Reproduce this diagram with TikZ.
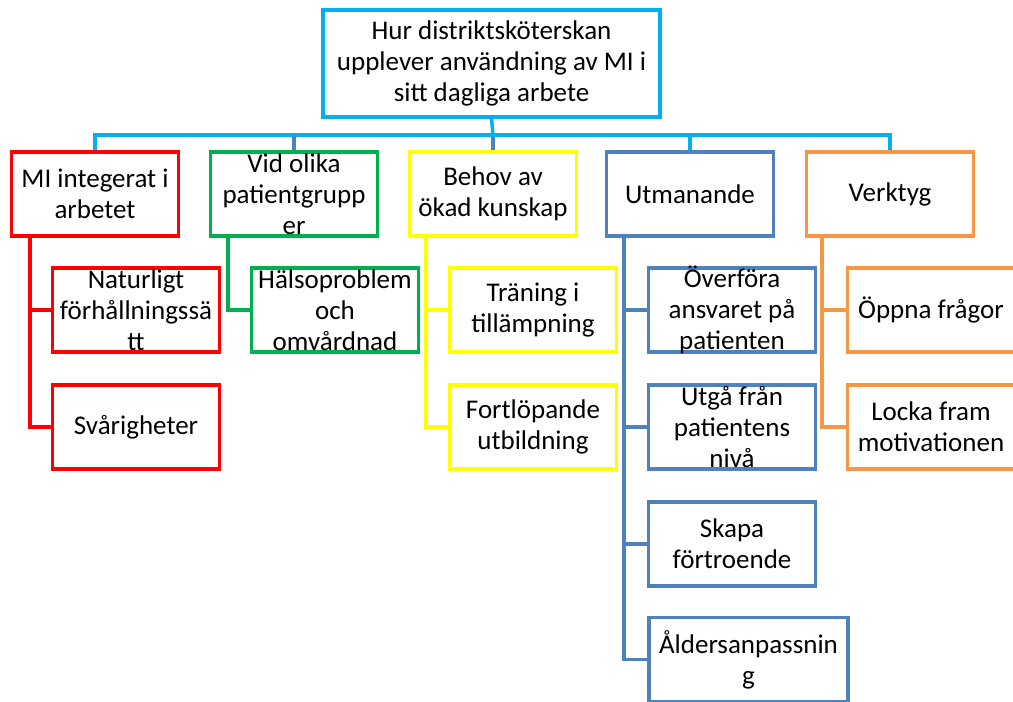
\documentclass[tikz,border=0pt]{standalone}
\usepackage{fontspec}
\setmainfont{Carlito}
\usepackage{xcolor}

\definecolor{skyblue}{HTML}{00B0F0}
\definecolor{miRed}{HTML}{FF0000}
\definecolor{vidGreen}{HTML}{00B050}
\definecolor{behYellow}{HTML}{FFFF00}
\definecolor{utmBlue}{HTML}{4F81BD}
\definecolor{verOrange}{HTML}{F79646}

\tikzset{
  box/.style={draw, line width=3.5pt, fill=white, align=center,
    minimum width=167pt, minimum height=84pt,
    inner xsep=0pt, inner ysep=-14pt,
    font=\fontsize{27}{31}\selectfont},
  link/.style={line width=3.5pt}
}

\begin{document}
\begin{tikzpicture}[x=1pt, y=-1pt]
\useasboundingbox (0,0) rectangle (1013,702);

% top
\node[box, draw=skyblue, minimum width=337pt, minimum height=107pt] (top) at (491.5,63.5)
  {Hur distriktsköterskan\\upplever användning av MI i\\sitt dagliga arbete};
\coordinate (bus) at (493,135);

% themes
\node[box, draw=miRed] (mi) at (95,194) {MI integerat i\\arbetet};
\node[box, draw=vidGreen] (vid) at (294,194) {Vid olika\\patientgrupp\\er};
\node[box, draw=behYellow] (beh) at (493,194) {Behov av\\ökad kunskap};
\node[box, draw=utmBlue] (utm) at (690,194) {Utmanande};
\node[box, draw=verOrange] (ver) at (890,194) {Verktyg};

% subthemes
\node[box, draw=miRed] (nat) at (136,310) {Naturligt\\förhållningssä\\tt};
\node[box, draw=miRed] (sva) at (136,427) {Svårigheter};
\node[box, draw=vidGreen] (hal) at (335,310) {Hälsoproblem\\och\\omvårdnad};
\node[box, draw=behYellow] (tra) at (533,310) {Träning i\\tillämpning};
\node[box, draw=behYellow] (fort) at (533,427) {Fortlöpande\\utbildning};
\node[box, draw=utmBlue] (over) at (732,310) {Överföra\\ansvaret på\\patienten};
\node[box, draw=utmBlue] (utga) at (732,427) {Utgå från\\patientens\\nivå};
\node[box, draw=utmBlue] (skapa) at (732,544) {Skapa\\förtroende};
\node[box, draw=utmBlue, minimum width=199pt] (alder) at (748.5,659.5) {Åldersanpassnin\\g};
\node[box, draw=verOrange] (oppna) at (931,310) {Öppna frågor};
\node[box, draw=verOrange] (locka) at (931,427) {Locka fram\\motivationen};

% bus from the top
\draw[link, skyblue] (top.south) -- (bus);
\draw[link, skyblue] (bus) -| (mi.north);
\draw[link, skyblue] (bus) -| (ver.north);
\draw[link, skyblue] (bus) -| (utm.north);
\draw[link, skyblue] (bus) -| (vid.north);
\draw[link, utmBlue] (vid.north) ++(0,-15) -- (vid.north);
\draw[link, utmBlue] (bus) ++(0,2) -- (beh.north);

% branches
\draw[link, miRed] (mi.south west) ++(20,0) |- (nat.west);
\draw[link, miRed] (mi.south west) ++(20,0) |- (sva.west);
\draw[link, vidGreen] (vid.south west) ++(19,0) |- (hal.west);
\draw[link, behYellow] (beh.south west) ++(18,0) |- (tra.west);
\draw[link, behYellow] (beh.south west) ++(18,0) |- (fort.west);
\draw[link, utmBlue] (utm.south west) ++(19,0) |- (over.west);
\draw[link, utmBlue] (utm.south west) ++(19,0) |- (utga.west);
\draw[link, utmBlue] (utm.south west) ++(19,0) |- (skapa.west);
\draw[link, utmBlue] (utm.south west) ++(19,0) |- (alder.west);
\draw[link, verOrange] (ver.south west) ++(17,0) |- (oppna.west);
\draw[link, verOrange] (ver.south west) ++(17,0) |- (locka.west);
\end{tikzpicture}
\end{document}
